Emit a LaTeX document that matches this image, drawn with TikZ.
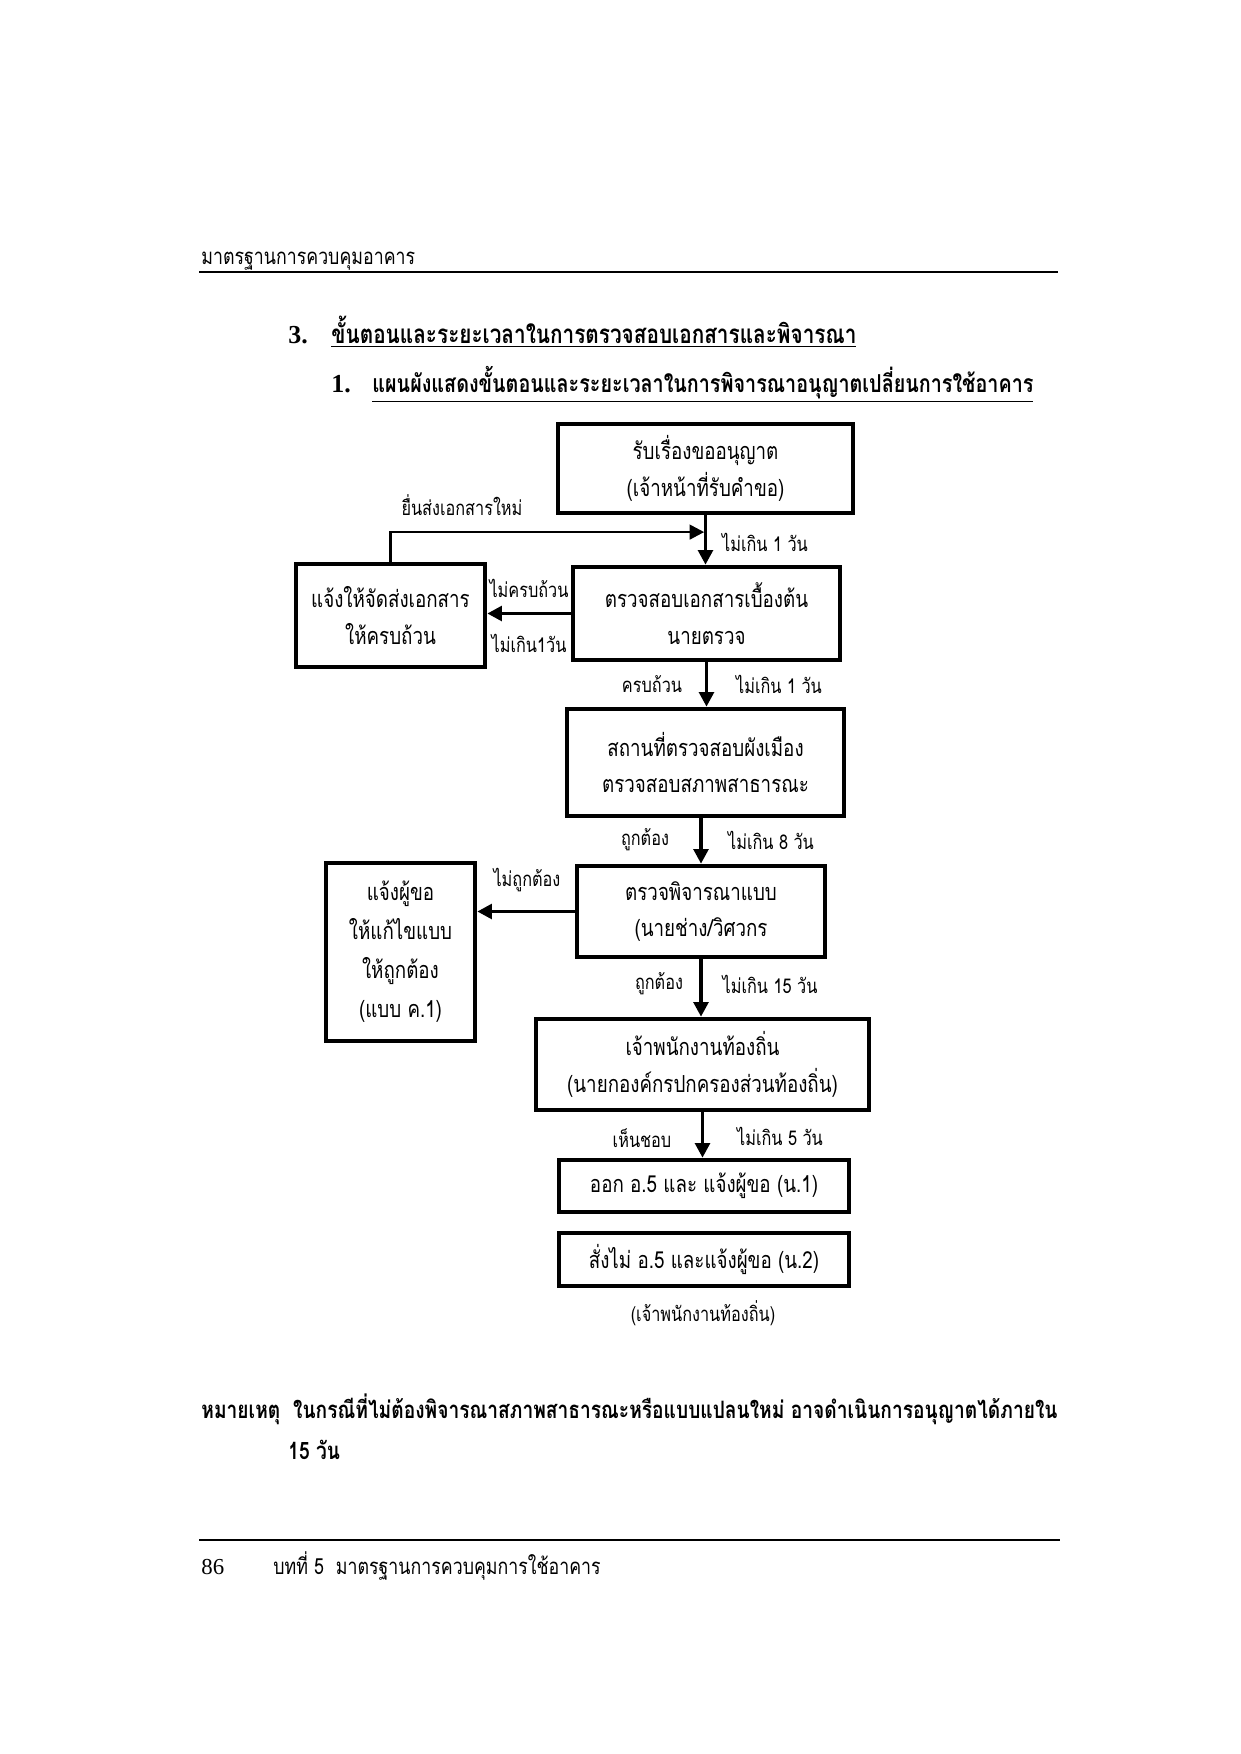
\documentclass[tikz,border=0pt]{standalone}
\usepackage{fontspec}
\setmainfont{Liberation Serif}
\newfontfamily\thai[Script=Thai,FakeStretch=0.8]{Loma}
\usepackage{tikz}
\usetikzlibrary{arrows.meta,calc,positioning}
\definecolor{ink}{HTML}{000000}
\newlength{\pxl}
\setlength{\pxl}{0.4819pt}

\begin{document}
\begin{tikzpicture}[x=0.4819pt, y=-0.4819pt,
  flowbox/.style={draw=ink, line width=2.2pt, align=center, inner sep=0pt,
    font=\thai\fontsize{11.3}{17.5}\selectfont},
  lab/.style={font=\thai\fontsize{9.8}{12}\selectfont, inner sep=1pt},
  flow/.style={draw=ink, line width=1.7pt, -{Triangle[length=7pt,width=7pt]}},
  pagerule/.style={draw=ink, line width=1.1pt},
  plain/.style={anchor=base west, inner sep=0pt, font=\thai\fontsize{10.7}{13}\selectfont},
  heading/.style={anchor=base west, inner sep=0pt, font=\thai\bfseries\fontsize{12.5}{15}\selectfont}]
\useasboundingbox (0,0) rectangle (1240,1754);
\node[plain] (head) at (201,264) {มาตรฐานการควบคุมอาคาร};
\draw[pagerule] (199,272) -- (1058,272);
\node[heading, font=\bfseries\fontsize{12.5}{15}\selectfont] (secnum) at (288,343) {3.};
\node[heading] (sec) at (331,343) {\underline{ขั้นตอนและระยะเวลาในการตรวจสอบเอกสารและพิจารณา}};
\node[heading, font=\bfseries\fontsize{12.5}{15}\selectfont] (subnum) at (331,392) {1.};
\node[heading, font=\thai\bfseries\fontsize{11.9}{15}\selectfont] (sub) at (372,392) {\underline{แผนผังแสดงขั้นตอนและระยะเวลาในการพิจารณาอนุญาตเปลี่ยนการใช้อาคาร}};

\node[flowbox, minimum width=295*\pxl, minimum height=89*\pxl] (recv) at (705.5,468.5) {รับเรื่องขออนุญาต\\(เจ้าหน้าที่รับคำขอ)};
\node[flowbox, minimum width=267*\pxl, minimum height=93*\pxl] (chk) at (706.5,613.5) {ตรวจสอบเอกสารเบื้องต้น\\นายตรวจ};
\node[flowbox, minimum width=189*\pxl, minimum height=103*\pxl] (notify) at (390.5,615.5) {แจ้งให้จัดส่งเอกสาร\\ให้ครบถ้วน};
\node[flowbox, minimum width=277*\pxl, minimum height=107*\pxl] (site) at (705.5,762.5) {สถานที่ตรวจสอบผังเมือง\\ตรวจสอบสภาพสาธารณะ};
\node[flowbox, minimum width=248*\pxl, minimum height=91*\pxl] (plan) at (701,911.5) {ตรวจพิจารณาแบบ\\(นายช่าง/วิศวกร};
\node[flowbox, minimum width=149*\pxl, minimum height=178*\pxl, font=\thai\fontsize{11.3}{18.8}\selectfont] (fix) at (400.5,952) {แจ้งผู้ขอ\\ให้แก้ไขแบบ\\ให้ถูกต้อง\\(แบบ ค.1)};
\node[flowbox, minimum width=333*\pxl, minimum height=91*\pxl] (local) at (702.5,1064.5) {เจ้าพนักงานท้องถิ่น\\(นายกองค์กรปกครองส่วนท้องถิ่น)};
\node[flowbox, minimum width=290*\pxl, minimum height=52*\pxl] (issue) at (704,1186) {ออก อ.5 และ แจ้งผู้ขอ (น.1)};
\node[flowbox, minimum width=290*\pxl, minimum height=53*\pxl] (deny) at (704,1259.5) {สั่งไม่ อ.5 และแจ้งผู้ขอ (น.2)};
\node[lab] (officer) at (703,1313) {(เจ้าพนักงานท้องถิ่น)};

\coordinate (join) at ($(recv.south)!.34!(chk.north)$);
\draw[flow] (recv.south) -- (recv.south |- chk.north);
\draw[flow, line width=1.3pt, shorten >=0.8pt] (notify.north) |- (join);
\draw[flow] (chk.west) -- (chk.west -| notify.east);
\draw[flow] (chk.south) -- (chk.south |- site.north);
\draw[flow] (site.south -| plan.north) -- (plan.north);
\draw[flow] (plan.west) -- (plan.west -| fix.east);
\draw[flow] (plan.south) -- (plan.south |- local.north);
\draw[flow] (local.south) -- (local.south |- issue.north);

\foreach \n/\x/\y/\t in {d1/765/542/{ไม่เกิน 1 วัน}, resub/462/505/{ยื่นส่งเอกสารใหม่},
  inc/529/588/{ไม่ครบถ้วน}, d1b/529/643/{ไม่เกิน1วัน}, comp/652/684/{ครบถ้วน},
  d2/779/684/{ไม่เกิน 1 วัน}, ok1/645/840/{ถูกต้อง}, d8/771/840/{ไม่เกิน 8 วัน},
  bad/527/880/{ไม่ถูกต้อง}, ok2/659/984/{ถูกต้อง}, d15/770/984/{ไม่เกิน 15 วัน},
  agree/642/1138/{เห็นชอบ}, d5/780/1136/{ไม่เกิน 5 วัน}}
  \node[lab] (\n) at (\x,\y) {\t};

\node[heading, font=\thai\bfseries\fontsize{11.55}{14}\selectfont] (note) at (201,1418) {หมายเหตุ\ \ ในกรณีที่ไม่ต้องพิจารณาสภาพสาธารณะหรือแบบแปลนใหม่ อาจดำเนินการอนุญาตได้ภายใน};
\node[heading, font=\thai\bfseries\fontsize{11.55}{14}\selectfont] (note2) at (288,1459) {15 วัน};
\draw[pagerule] (199,1540) -- (1060,1540);
\node[plain, font=\fontsize{11}{13}\selectfont] (page) at (201,1574) {86};
\node[plain] (chap) at (273,1574) {บทที่ 5\ \ มาตรฐานการควบคุมการใช้อาคาร};
\end{tikzpicture}
\end{document}
